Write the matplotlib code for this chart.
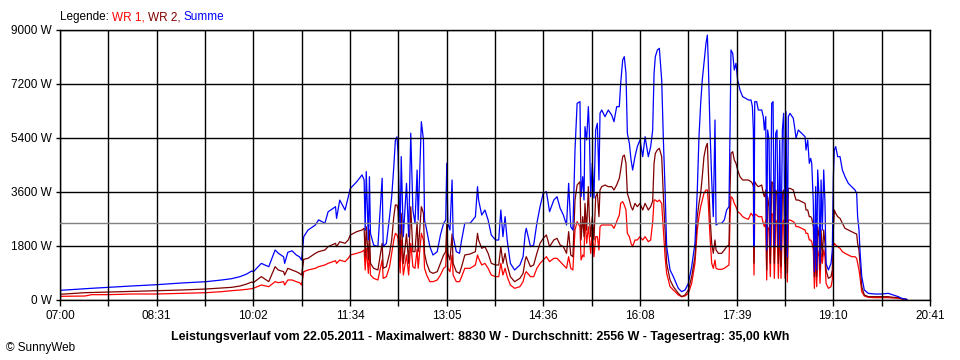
import matplotlib
matplotlib.use("Agg")
import matplotlib.pyplot as plt
import numpy as np

plt.rcParams['font.family'] = ['Liberation Sans', 'DejaVu Sans']

# time axis: minutes after 07:00, power in W
minutes = [
    0, 23.6, 29.9, 45.6, 67.7, 91.5, 114.8, 137.8, 152.6, 162.0, 169.9, 176.2, 180.9,
    182.4, 190, 197, 203, 206, 211, 212, 215, 219, 223, 226, 228, 230, 234, 241, 244,
    250, 253, 260, 261, 264, 269, 272, 274, 280, 285, 287, 288, 289, 291, 292, 293,
    296, 300, 304, 305, 308, 311, 313, 315, 316.5, 318, 319, 321, 322, 324, 327, 329,
    331, 333,
    335, 337, 338, 341, 343, 344, 346, 349, 352, 356, 359, 362, 364, 365, 366, 368,
    370, 371, 374, 377, 379, 382, 387, 392, 394, 395, 398, 401, 404, 407, 411, 414,
    416, 418, 420, 422, 425, 429, 434, 437, 439, 440, 444, 447, 450, 453, 456, 459,
    462, 466, 469, 472, 475, 478, 480, 482, 484, 486, 488,
    490.7, 491.7, 493.3, 494.5, 495.4, 497.0, 498.6, 499.5, 500.8, 502.3, 503.9,
    505.5, 507.1, 508.6, 509.6, 511.2, 514.3, 517.4, 520.6, 522.8, 525.3, 527.8,
    529.1, 531.0, 532.5, 534.1, 535.4, 537.3, 538.9, 540.4, 542.6, 544.8, 547.3,
    549.9, 552.1, 555.2, 557.4, 559.3, 560.6, 561.8, 563.7, 565.6, 567.8, 569.4,
    571.0, 572.5, 575.7, 578.8, 583.5, 586.7, 589.8, 593.0, 596.1, 599.2, 601.4,
    603.0, 604.6, 606.1, 607.7, 609.6, 610.9, 611.8, 613.4, 615.0, 616.5, 618.1,
    619.1, 621.3, 624.4, 626.9, 629.1, 631.3, 632.3, 633.2, 634.8, 636.3, 637.9,
    639.5, 641.7, 644.2, 647.1, 649.6,
    652.1, 653.4, 654.3, 654.9, 655.6, 657.4, 659.0, 662.2, 663.7, 664.7, 666.0,
    666.9, 667.8, 669.1, 670.3, 671.6, 672.9, 674.1, 675.4, 676.6, 677.9, 679.2,
    680.4, 681.7, 682.9, 684.2, 685.1, 686.4, 687.3, 688.9, 692.0, 693.6, 694.6,
    696.7, 699.9, 703.1, 704.0, 705.6, 707.1, 708.4, 709.4, 710.9, 711.9, 713.1,
    714.1, 715.0, 716.3, 717.2, 718.2, 719.4, 720.7, 721.9, 722.9, 725.1, 727.6,
    728.8, 729.8, 730.7, 732.0, 733.9, 736.1, 738.3, 740.8, 743.9, 747.1, 750.2,
    751.8, 752.7, 754.0, 754.9, 756.6, 759.0, 762.8, 769.1, 775.4, 781.6, 786.4,
    791.1, 794.3, 799.0,
]

summe = [
    322, 378, 390, 422, 467, 511, 567, 611, 667, 711, 778, 867, 967,
    940, 1220, 1110, 1667, 1560, 1440, 1220, 1590, 1640, 1500, 1440, 1330, 2110, 2330, 2500, 2670,
    2560, 2940, 3110, 2720, 3330, 3000, 3440, 3720, 3940, 4170, 4000, 2330, 4280, 2000, 4110, 2220,
    1830, 1780, 4060, 1780, 1890, 2780, 3440, 4440, 5330, 5440, 4890, 2220, 4780, 2110, 3890, 2110,
    5560, 3000,
    2556, 4333, 2667, 5944, 5333, 2667, 2333, 1778, 1500, 1611, 2167, 2556, 2667, 4556, 2556, 2333,
    4000, 2111, 1611, 1556, 2000, 2556, 2556, 2778, 3778, 3333, 2833, 3000, 2667, 2167, 2000, 2000,
    3000, 2111, 2778, 2000, 1222, 1000, 1167, 1444, 2222, 2389, 1778, 1833, 2556, 3111, 3556, 3611,
    2944, 3333, 3444, 3056, 2833, 2500, 3889, 2444, 2333, 5000, 6556,
    6611, 3444, 4111, 3333, 5778, 5333, 6444, 5667, 3444, 4556, 3400,
    5667, 5889, 4000, 6222, 6333, 6111, 6333, 6167, 5944, 6444, 6444,
    7222, 8000, 8111, 7556, 5556, 5222, 4667, 4333, 4778, 5111, 5333,
    4778, 5444, 4778, 5111, 5667, 7556, 8111, 8333, 8389, 7333, 5333,
    3667, 1778, 1000, 778, 389, 278, 333, 556, 1111, 1889, 3667,
    5444, 6556, 7333, 7889, 8556, 8830, 7889, 5667, 4000, 2778, 6000,
    2500, 2556, 2556, 2667, 3000, 3111, 5667, 8333, 8222, 7667, 7889,
    7333, 7000, 6778, 6722, 6667,
    6667, 6444, 5667, 1778, 6611, 6611, 6333, 6333, 6111, 5667, 6111,
    1667, 5667, 5333, 1778, 6556, 6611, 1778, 5556, 5667, 1778, 5333,
    1667, 5667, 6222, 1778, 6278, 1444, 6111, 6222, 6056, 5667, 5389,
    5667, 5556, 5444, 5000, 5333, 4556, 4722, 4556, 3222, 944, 3778,
    1000, 4333, 3444, 1222, 4000, 2333, 4333, 3222, 1222, 1000, 1222,
    1667, 4111, 5000, 5111, 4778, 4778, 4333, 4111, 3889, 3778, 3667,
    3556, 2778, 2333, 1667, 778, 333, 222, 200, 200, 222, 167,
    111, 56, 22,
]

wr2 = [
    189, 244, 250, 267, 289, 311, 333, 367, 400, 422, 467, 533, 600,
    577, 778, 611, 1111, 1000, 944, 833, 1056, 1000, 944, 889, 833, 1356, 1389, 1556, 1611,
    1667, 1778, 1889, 1778, 1944, 1889, 2000, 2167, 2278, 2333, 2389, 1444, 2444, 1333, 2333, 1222,
    1056, 1000, 1889, 1056, 1111, 1556, 2000, 2778, 3167, 3167, 3000, 1300, 2889, 1222, 2200, 1222,
    3111, 1611,
    1611, 2600, 1611, 3111, 2889, 1556, 1222, 944, 889, 944, 1222, 1500, 1611, 2556, 1556, 1333,
    2200, 1222, 944, 889, 1111, 1500, 1533, 1611, 2222, 2000, 1722, 1778, 1556, 1222, 1167, 1167,
    1778, 1222, 1556, 1167, 778, 611, 722, 889, 1333, 1444, 1111, 1167, 1556, 1889, 2056, 2167,
    1778, 2000, 2056, 1833, 1778, 1556, 2278, 1500, 1444, 3333, 3833,
    3944, 2000, 2778, 2111, 3222, 2333, 3778, 2778, 2111, 2778, 2000,
    3444, 3556, 2778, 3667, 3778, 3833, 3778, 3778, 3667, 3833, 4056,
    4333, 4778, 4833, 4556, 3556, 3333, 3111, 3000, 3222, 3111, 3222,
    3000, 3222, 3000, 3111, 3300, 4556, 4889, 5000, 5056, 4778, 3444,
    2333, 1222, 667, 444, 222, 111, 167, 333, 778, 1444, 2778,
    3222, 3556, 4111, 4778, 5111, 5222, 4333, 2778, 1889, 1556, 2000,
    1667, 1556, 1556, 1667, 1778, 1833, 3667, 4889, 4944, 4667, 4556,
    4333, 4111, 4000, 4000, 4000,
    3944, 3889, 3778, 1222, 3944, 3833, 3778, 3833, 3556, 3444, 3667,
    1000, 3444, 3111, 1222, 3944, 3889, 1222, 3667, 3556, 1222, 3444,
    1111, 3556, 3667, 1222, 3778, 900, 3722, 3722, 3667, 3444, 3333,
    3333, 3278, 3222, 3000, 3000, 2778, 2778, 2722, 2444, 778, 2333,
    778, 2444, 2111, 1000, 2333, 1444, 2333, 1889, 1000, 722, 778,
    1000, 2333, 3000, 2889, 2778, 2722, 2556, 2389, 2333, 2278, 2222,
    2200, 1889, 1667, 1222, 444, 167, 111, 111, 111, 111, 89,
    78, 44, 22,
]

wr1 = [
    122, 133, 178, 178, 200, 200, 222, 244, 278, 311, 333, 356, 378,
    389, 500, 444, 611, 578, 611, 500, 667, 667, 611, 578, 500, 944, 1000, 1056, 1111,
    1167, 1222, 1311, 1222, 1333, 1278, 1389, 1500, 1556, 1611, 1667, 1000, 1722, 889, 1667, 833,
    722, 667, 1333, 722, 778, 1111, 1556, 2000, 2222, 2167, 2056, 900, 2000, 833, 1500, 833,
    1889, 1111,
    1056, 1700, 1056, 2222, 2000, 1056, 833, 611, 611, 667, 833, 1056, 1111, 2000, 1056, 944,
    1500, 833, 611, 611, 778, 1056, 1056, 1167, 1500, 1389, 1167, 1222, 1056, 833, 778, 778,
    1222, 833, 1056, 778, 500, 389, 444, 611, 889, 944, 778, 778, 1056, 1222, 1333, 1444,
    1278, 1389, 1389, 1278, 1167, 1056, 1444, 1056, 1000, 2333, 2611,
    2444, 1333, 1500, 1444, 2778, 1889, 2444, 2111, 1556, 2333, 1444,
    2111, 2111, 1667, 2444, 2500, 2500, 2500, 2500, 2389, 2611, 2833,
    3222, 3278, 3167, 3000, 2222, 2111, 1889, 1778, 2000, 2000, 2111,
    2000, 2111, 1944, 2000, 2600, 3333, 3333, 3278, 3333, 3222, 2333,
    1444, 889, 444, 333, 167, 111, 133, 222, 556, 1222, 2333,
    2778, 3111, 3333, 3556, 3667, 3667, 3222, 2111, 1222, 1056, 1333,
    1056, 1022, 1022, 1056, 1111, 1167, 2778, 3444, 3389, 3222, 3111,
    2944, 2889, 2778, 2722, 2689,
    2889, 2833, 2778, 833, 2867, 2833, 2778, 2778, 2556, 2444, 2667,
    667, 2444, 2333, 778, 2889, 2833, 722, 2667, 2556, 722, 2444,
    722, 2556, 2667, 722, 2778, 600, 2667, 2667, 2611, 2556, 2444,
    2444, 2389, 2333, 2222, 2222, 2000, 2000, 1944, 1667, 389, 1556,
    444, 1667, 1444, 556, 1556, 1222, 1667, 1444, 556, 389, 444,
    667, 1778, 1889, 1833, 1778, 1722, 1611, 1556, 1500, 1444, 1444,
    1389, 1222, 1000, 778, 278, 133, 89, 78, 78, 78, 67,
    56, 33, 11,
]

tick_labels = ["07:00", "08:31", "10:02", "11:34", "13:05",
               "14:36", "16:08", "17:39", "19:10", "20:41"]
legend_parts = [("Legende: ", 'black'), ("WR 1, ", '#ff0000'),
                ("WR 2, ", '#800000'), ("Summe", '#0000ff')]
footer = ("Leistungsverlauf vom 22.05.2011 - Maximalwert: 8830 W - "
          "Durchschnitt: 2556 W - Tagesertrag: 35,00 kWh")
span_min = 821          # 07:00 .. 20:41
avg_w = 2556
y_max = 9000

fig = plt.figure(figsize=(9.6, 3.6), dpi=100)
ax = fig.add_axes([60 / 960, 60 / 360, 870 / 960, 270 / 360])

ax.plot(minutes, wr1, color='#ff0000', lw=0.9)
ax.plot(minutes, wr2, color='#800000', lw=0.9)
ax.plot(minutes, summe, color='#0000ff', lw=0.9)
ax.axhline(avg_w, color='#808080', lw=1.0, zorder=4)

ax.set_xlim(0, span_min)
ax.set_ylim(0, y_max)
ax.set_xticks(np.linspace(0, span_min, len(tick_labels)))
ax.set_xticklabels(tick_labels)
ax.set_xticks(np.linspace(0, span_min, 2 * len(tick_labels) - 1), minor=True)
yt = np.arange(0, y_max + 1, 1800)
ax.set_yticks(yt)
ax.set_yticklabels([f"{v} W" for v in yt])

ax.set_axisbelow(False)
ax.grid(True, which='both', axis='x', color='black', lw=1.0)
ax.grid(True, which='major', axis='y', color='black', lw=1.0)
ax.tick_params(axis='x', which='both', direction='out', length=4, width=1,
               labelsize=8.5, pad=3)
ax.tick_params(axis='y', direction='out', length=3, width=1, labelsize=8.5, pad=3)
for s in ax.spines.values():
    s.set_color('black')
    s.set_linewidth(1.0)

# coloured legend line at the top, pieces chained one after the other
prev = fig.text(60 / 960, 1 - 17 / 360, legend_parts[0][0], fontsize=8.5,
                va='center', color=legend_parts[0][1])
for txt, col in legend_parts[1:]:
    prev = ax.annotate(txt, xy=(1, 0), xycoords=prev, fontsize=8.5,
                       color=col, va='bottom', ha='left')

fig.text(0.5, 1 - 337 / 360, footer, fontsize=8.9, fontweight='bold',
         ha='center', va='center')
fig.text(6 / 960, 1 - 348 / 360, "\u00a9 SunnyWeb", fontsize=8.5,
         ha='left', va='center')

fig.savefig("out.png", dpi=100)
